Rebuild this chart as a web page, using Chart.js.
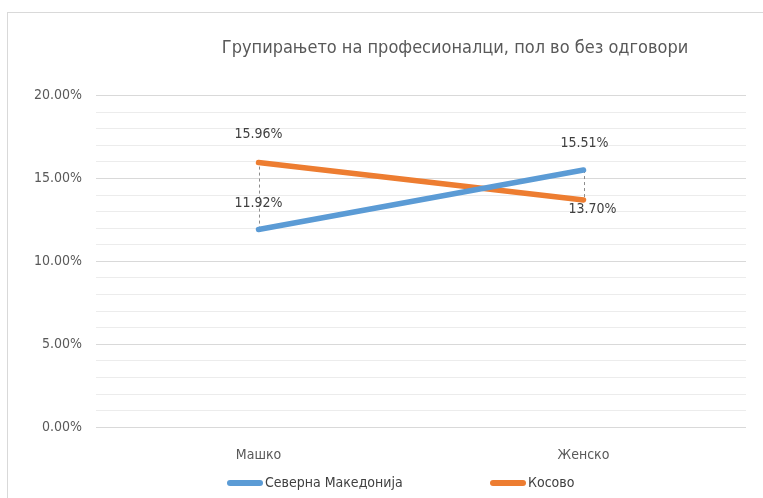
<!DOCTYPE html>
<html>
<head>
<meta charset="utf-8">
<script src="https://cdn.jsdelivr.net/npm/chart.js@4.4.1/dist/chart.umd.min.js"></script>
<style>
  html, body { margin: 0; padding: 0; background: #fff; }
  #wrap { position: relative; width: 763px; height: 498px; overflow: hidden; }
  #frame { position: absolute; left: 7px; top: 12px; width: 800px; height: 600px;
           border-left: 1px solid #d9d9d9; border-top: 1px solid #d9d9d9; }
  canvas { position: absolute; left: 0; top: 0; }
</style>
</head>
<body>
<div id="wrap">
  <div id="frame"></div>
  <canvas id="chart" width="763" height="498"></canvas>
</div>
<script>
// Податоци
const categories = ['Машко', 'Женско'];
const seriesNames = ['Северна Македонија', 'Косово'];
const northMacedonia = [11.92, 15.51];
const kosovo = [15.96, 13.70];
const chartTitle = 'Групирањето на професионалци, пол во без одговори';

const FONT = "'DejaVu Sans Condensed', 'Liberation Sans', sans-serif";
const BLUE = '#5b9bd5';
const ORANGE = '#ed7d31';

// Вертикални испрекинати линии меѓу двете серии
const dropLines = {
  id: 'dropLines',
  beforeDatasetsDraw(chart) {
    const ctx = chart.ctx;
    const a = chart.getDatasetMeta(0).data;
    const b = chart.getDatasetMeta(1).data;
    ctx.save();
    ctx.strokeStyle = '#8c8c8c';
    ctx.lineWidth = 1;
    ctx.setLineDash([3, 3]);
    for (let i = 0; i < a.length; i++) {
      ctx.beginPath();
      ctx.moveTo(Math.round(a[i].x) + 0.5, a[i].y);
      ctx.lineTo(Math.round(b[i].x) + 0.5, b[i].y);
      ctx.stroke();
    }
    ctx.restore();
  }
};

// Ознаки со вредности
const valueLabels = {
  id: 'valueLabels',
  afterDatasetsDraw(chart, args, opts) {
    const ctx = chart.ctx;
    ctx.save();
    ctx.font = '14px ' + FONT;
    ctx.fillStyle = '#404040';
    ctx.textAlign = 'center';
    ctx.textBaseline = 'middle';
    chart.data.datasets.forEach((ds, di) => {
      chart.getDatasetMeta(di).data.forEach((pt, i) => {
        const off = opts.offsets[di][i];
        ctx.fillText(ds.data[i].toFixed(2) + '%', pt.x + off[0], pt.y + off[1]);
      });
    });
    ctx.restore();
  }
};

// Легенда долу
const bottomLegend = {
  id: 'bottomLegend',
  afterDraw(chart, args, opts) {
    const ctx = chart.ctx;
    ctx.save();
    ctx.font = '14px ' + FONT;
    ctx.textBaseline = 'middle';
    ctx.textAlign = 'left';
    chart.data.datasets.forEach((ds, i) => {
      const x = opts.x[i];
      ctx.strokeStyle = ds.borderColor;
      ctx.lineWidth = 6;
      ctx.lineCap = 'round';
      ctx.beginPath();
      ctx.moveTo(x + 3, opts.y);
      ctx.lineTo(x + 33, opts.y);
      ctx.stroke();
      ctx.fillStyle = '#404040';
      ctx.fillText(ds.label, x + 38, opts.y);
    });
    ctx.restore();
  }
};

// Поместување на насловот
const titleShift = {
  id: 'titleShift',
  afterLayout(chart, args, opts) {
    chart.titleBlock.left += opts.dx;
    chart.titleBlock.right += opts.dx;
  }
};

new Chart(document.getElementById('chart'), {
  type: 'line',
  data: {
    labels: categories,
    datasets: [
      { label: seriesNames[0], data: northMacedonia, borderColor: BLUE, backgroundColor: BLUE,
        borderWidth: 5.5, borderCapStyle: 'round', pointRadius: 0, tension: 0 },
      { label: seriesNames[1], data: kosovo, borderColor: ORANGE, backgroundColor: ORANGE,
        borderWidth: 5.5, borderCapStyle: 'round', pointRadius: 0, tension: 0 }
    ]
  },
  options: {
    responsive: false,
    animation: false,
    layout: { padding: { left: 20, right: 17, top: 0, bottom: 14 } },
    scales: {
      x: {
        offset: true,
        grid: { display: false, drawTicks: false },
        border: { display: false },
        ticks: { color: '#595959', font: { family: FONT, size: 14 }, padding: 20 }
      },
      y: {
        min: 0,
        max: 20,
        border: { display: false },
        grid: {
          drawTicks: false,
          lineWidth: 1,
          color: c => (c.tick && c.tick.value % 5 === 0) ? '#d9d9d9' : '#ececec'
        },
        ticks: {
          stepSize: 1,
          autoSkip: false,
          padding: 14,
          color: '#595959',
          font: { family: FONT, size: 14 },
          callback: v => (v % 5 === 0) ? v.toFixed(2) + '%' : ''
        }
      }
    },
    plugins: {
      legend: { display: false },
      tooltip: { enabled: false },
      title: {
        display: true,
        text: chartTitle,
        color: '#595959',
        font: { family: FONT, size: 18, weight: 'normal' },
        padding: { top: 38, bottom: 36 }
      },
      titleShift: { dx: 72 },
      valueLabels: {
        offsets: [
          [[0, -26], [1, -27]],
          [[0, -28], [9, 9]]
        ]
      },
      bottomLegend: { x: [227, 490], y: 483 }
    }
  },
  plugins: [dropLines, valueLabels, bottomLegend, titleShift]
});
</script>
</body>
</html>
